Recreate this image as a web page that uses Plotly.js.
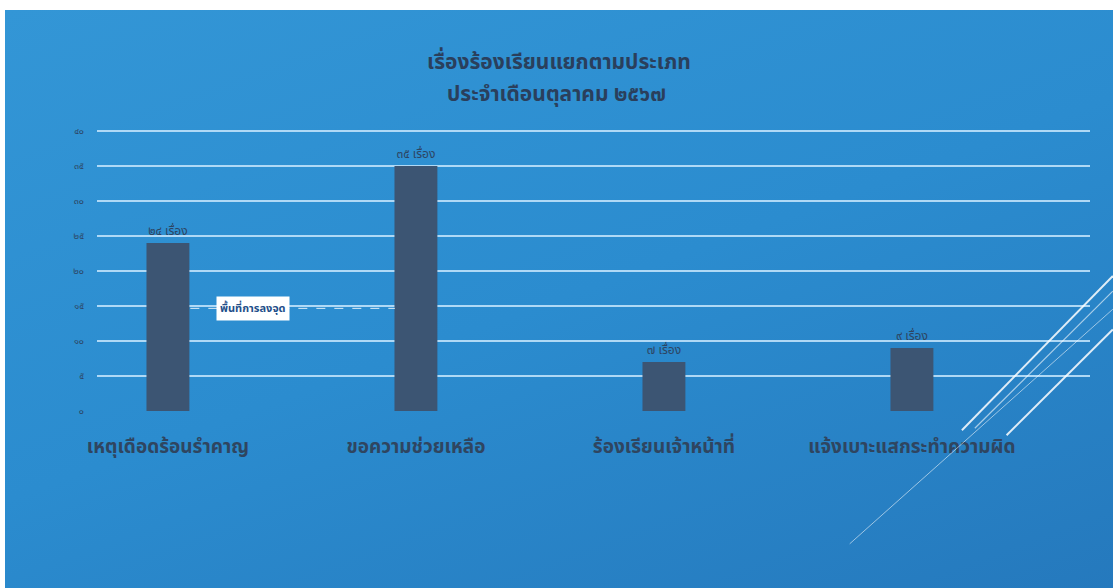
<!DOCTYPE html>
<html>
<head>
<meta charset="utf-8">
<script src="https://cdn.plot.ly/plotly-3.0.1.min.js"></script>
<style>
  html, body { margin: 0; padding: 0; background: #ffffff; width: 1113px; height: 588px; overflow: hidden; }
  #chart { position: absolute; left: 5px; top: 10px; width: 1108px; height: 578px;
           background: linear-gradient(160deg, #3396d6 0%, #2b8ccf 50%, #2579bd 100%); }
</style>
</head>
<body>
<div id="chart"></div>
<script>
// ---- data ----
const categories = ["เหตุเดือดร้อนรำคาญ", "ขอความช่วยเหลือ", "ร้องเรียนเจ้าหน้าที่", "แจ้งเบาะแสกระทำความผิด"];
const values = [24, 35, 7, 9];
const yTickVals = [0, 5, 10, 15, 20, 25, 30, 35, 40];
const yTickText = ["๐", "๕", "๑๐", "๑๕", "๒๐", "๒๕", "๓๐", "๓๕", "๔๐"];
const unitLabel = "เรื่อง";
const titleLines = ["เรื่องร้องเรียนแยกตามประเภท", "ประจำเดือนตุลาคม ๒๕๖๗"];
const tooltipText = "พื้นที่การลงจุด";

const thaiDigits = ["๐","๑","๒","๓","๔","๕","๖","๗","๘","๙"];
function toThai(n) { return String(n).split("").map(d => thaiDigits[+d] || d).join(""); }

const xIdx = categories.map((c, i) => i);
const dark = "#2d4563";
const font = "Tahoma, 'Noto Sans Thai', 'Loma', 'Garuda', 'Noto Sans', sans-serif";

const trace = {
  type: "bar",
  x: xIdx,
  y: values,
  width: 0.173,
  marker: { color: "#3c5573" },
  text: values.map(v => toThai(v) + " " + unitLabel),
  textposition: "outside",
  textfont: { family: font, size: 12, color: dark },
  cliponaxis: false,
  hoverinfo: "none"
};

const diag = (x0, y0, x1, y1, w, op) => ({
  type: "line", xref: "paper", yref: "paper", x0, y0, x1, y1,
  line: { color: "rgba(255,255,255," + op + ")", width: w }
});

const layout = {
  width: 1108, height: 578,
  paper_bgcolor: "rgba(0,0,0,0)",
  plot_bgcolor: "rgba(0,0,0,0)",
  margin: { l: 92, r: 23, t: 119, b: 177 },
  showlegend: false,
  font: { family: font, color: dark },
  title: {
    text: "<b>" + titleLines[0] + "</b>",
    font: { family: font, size: 21, color: "#2a3f5c" },
    x: 0.5, xanchor: "center",
    yref: "container", y: 0.910, yanchor: "middle"
  },
  xaxis: {
    range: [-0.286, 3.718],
    tickvals: xIdx,
    ticktext: categories.map(c => "<b>" + c + "</b>"),
    tickfont: { family: font, size: 19, color: "#2f4560" },
    ticklabelstandoff: 22,
    showgrid: false, zeroline: false, showline: false, ticks: ""
  },
  yaxis: {
    range: [0, 40.3],
    tickvals: yTickVals,
    ticktext: yTickText,
    tickfont: { family: font, size: 9, color: dark },
    ticklabelstandoff: 12,
    showgrid: true, gridcolor: "rgba(190,225,250,0.9)", gridwidth: 1.5,
    zeroline: false, showline: false, ticks: ""
  },
  shapes: [
    { type: "line", xref: "paper", yref: "paper", x0: 0.094, x1: 0.300, y0: 0.364, y1: 0.364,
      line: { color: "rgba(255,255,255,0.85)", width: 1, dash: "dash" } },
    diag(1.023, 0.479, 0.871, -0.068, 2, 0.85),
    diag(1.023, 0.425, 0.884, -0.061, 1.2, 0.6),
    diag(1.023, 0.289, 0.916, -0.086, 2, 0.85),
    diag(1.023, 0.361, 0.758, -0.471, 1, 0.55)
  ],
  annotations: [
    {
      xref: "paper", yref: "paper", x: 0.4625, y: 1.121,
      text: "<b>" + titleLines[1] + "</b>", showarrow: false,
      font: { family: font, size: 21, color: "#2a3f5c" },
      xanchor: "center", yanchor: "middle"
    },
    {
      xref: "paper", yref: "paper", x: 0.157, y: 0.364,
      text: "<b>" + tooltipText + "</b>", showarrow: false,
      font: { family: font, size: 11, color: "#1f4f8a" },
      bgcolor: "#ffffff", borderpad: 3,
      xanchor: "center", yanchor: "middle"
    }
  ]
};

Plotly.newPlot("chart", [trace], layout, { displayModeBar: false, staticPlot: true });
</script>
</body>
</html>
